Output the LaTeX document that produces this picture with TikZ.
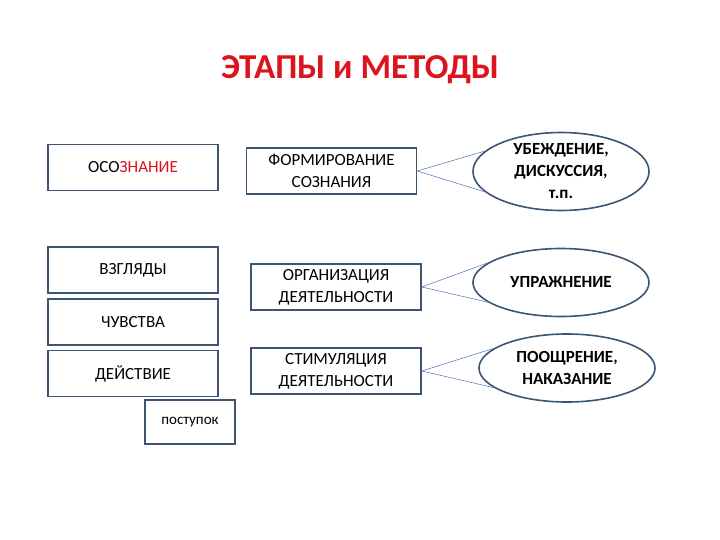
\documentclass[tikz,border=0pt]{standalone}
\usepackage{fontspec}
\setmainfont{Carlito}
\usetikzlibrary{shapes.geometric}
\definecolor{bord}{RGB}{60,85,115}
\definecolor{lnk}{RGB}{80,110,170}
\definecolor{ttl}{RGB}{220,20,30}
\tikzset{
 box/.style={draw=bord,line width=1.6pt,fill=white,minimum width=170pt,minimum height=46pt,align=center,font=\fontsize{17}{22}\selectfont,inner sep=0pt},
 ell/.style={ellipse,draw=bord,line width=1.6pt,minimum width=176pt,minimum height=68pt,align=center,inner sep=0pt,font=\bfseries\fontsize{17}{22}\selectfont},
 lk/.style={draw=lnk,line width=0.5pt}
}
\begin{document}
\begin{tikzpicture}[x=1pt,y=-1pt]
\useasboundingbox (0,0) rectangle (720,540);
\node[font=\bfseries\fontsize{35}{40}\selectfont,text=ttl] (t) at (360,70) {ЭТАПЫ и МЕТОДЫ};
\node[box] (a1) at (133,167.5) {ОСО\textcolor{ttl}{ЗНАНИЕ}};
\node[box] (a2) at (133,270) {ВЗГЛЯДЫ};
\node[box] (a3) at (133,322) {ЧУВСТВА};
\node[box] (a4) at (133,373.5) {ДЕЙСТВИЕ};
\node[box,minimum width=90pt,minimum height=44pt,font=\fontsize{15}{18}\selectfont] (a5) at (190,422) {поступок};
\node[box] (b1) at (331.5,171) {ФОРМИРОВАНИЕ\\СОЗНАНИЯ};
\node[box] (b2) at (336,287) {ОРГАНИЗАЦИЯ\\ДЕЯТЕЛЬНОСТИ};
\node[box] (b3) at (336,371) {СТИМУЛЯЦИЯ\\ДЕЯТЕЛЬНОСТИ};
\node[ell] (c1) at (561,171.5) {УБЕЖДЕНИЕ,\\ДИСКУССИЯ,\\т.п.};
\node[ell] (c2) at (561,282.5) {УПРАЖНЕНИЕ};
\node[ell] (c3) at (567,368) {ПООЩРЕНИЕ,\\НАКАЗАНИЕ};
\foreach \b/\c in {b1/c1,b2/c2,b3/c3}{
 \draw[lk] (\b.east) -- (\c.165);
 \draw[lk] (\b.east) -- (\c.195);
}
\end{tikzpicture}
\end{document}
